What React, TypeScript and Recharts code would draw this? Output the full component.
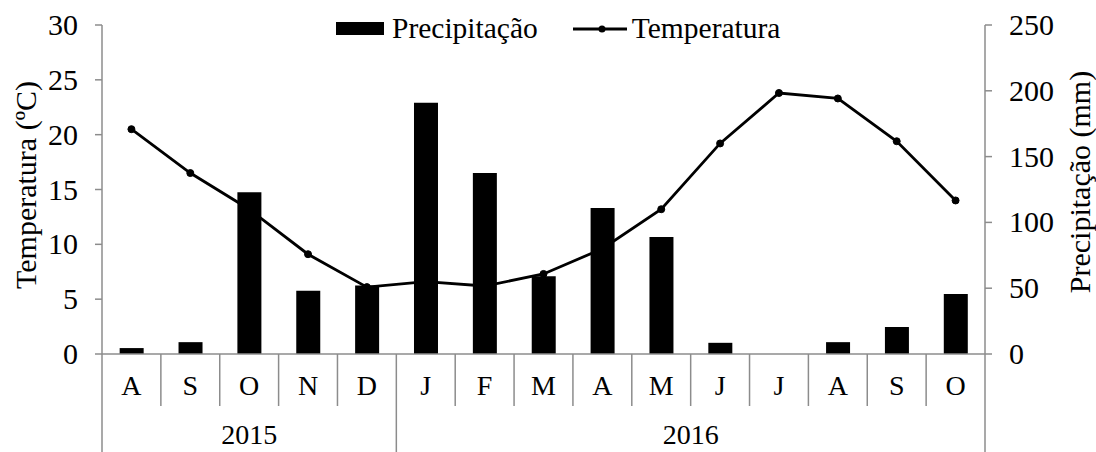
import React from 'react';
import { ComposedChart, Bar, Line, XAxis, YAxis } from 'recharts';

// monthly values, Aug 2015 - Oct 2016
const months = ['A', 'S', 'O', 'N', 'D', 'J', 'F', 'M', 'A', 'M', 'J', 'J', 'A', 'S', 'O'];
const yearLabels = ['2015', '2016'];
const yearSpans = [5, 10];
const precipitation = [4.5, 9, 123, 48, 52, 191, 137.5, 59, 111, 89, 8.5, 0, 9, 20.5, 45.5];
const temperature = [20.5, 16.5, 13.2, 9.1, 6.1, 6.6, 6.2, 7.3, 9.6, 13.2, 19.2, 23.8, 23.3, 19.4, 14.0];
const tempTicks = [0, 5, 10, 15, 20, 25, 30];
const precTicks = [0, 50, 100, 150, 200, 250];

const W = 1096;
const H = 452;
const PLOT_LEFT = 102;
const PLOT_RIGHT = 985;
const PLOT_TOP = 25;
const PLOT_BOTTOM = 354;
const BAND = (PLOT_RIGHT - PLOT_LEFT) / months.length;
const GRAY = '#8c8c8c';
const FONT = '"Liberation Serif", "Times New Roman", serif';

const data = months.map((m, i) => ({
  month: m,
  precipitacao: precipitation[i],
  temperatura: temperature[i],
}));

// group starts for year labels
const yearStarts = yearSpans.map((_, i) => yearSpans.slice(0, i).reduce((a, b) => a + b, 0));

const MonthTick = (props: any) => {
  const { x, y, payload } = props;
  const i = props.index ?? payload.index;
  const left = x - BAND / 2;
  const isYearStart = yearStarts.includes(i);
  const g = yearStarts.indexOf(i);
  return (
    <g>
      <line x1={left} x2={left} y1={y} y2={isYearStart ? H : y + 52} stroke={GRAY} strokeWidth={1.5} />
      {i === months.length - 1 && (
        <line x1={x + BAND / 2} x2={x + BAND / 2} y1={y} y2={H} stroke={GRAY} strokeWidth={1.5} />
      )}
      <text x={x} y={y + 41} textAnchor="middle" fontSize={28} fontFamily={FONT} style={{ fontFamily: FONT }} fill="#000">
        {payload.value}
      </text>
      {g >= 0 && (
        <text
          x={left + (yearSpans[g] * BAND) / 2}
          y={y + 90}
          textAnchor="middle"
          fontSize={28}
          fontFamily={FONT}
          style={{ fontFamily: FONT }}
          fill="#000"
        >
          {yearLabels[g]}
        </text>
      )}
    </g>
  );
};

const ValueTick = (props: any) => {
  const { x, y, payload, side } = props;
  return (
    <text
      x={x}
      y={y}
      dy={10}
      textAnchor={side === 'left' ? 'end' : 'start'}
      fontSize={30}
      fontFamily={FONT}
      style={{ fontFamily: FONT }}
      fill="#000"
    >
      {payload.value}
    </text>
  );
};

const AxisTitle = (props: any) => {
  const { cx, cy, value } = props;
  return (
    <text
      x={cx}
      y={cy}
      transform={`rotate(-90, ${cx}, ${cy})`}
      textAnchor="middle"
      dominantBaseline="central"
      fontSize={30}
      fontFamily={FONT}
      style={{ fontFamily: FONT }}
      fill="#000"
    >
      {value}
    </text>
  );
};

const ChartLegend = () => (
  <div
    style={{
      position: 'absolute',
      top: 12,
      left: 336,
      display: 'flex',
      alignItems: 'center',
      fontFamily: FONT,
      fontSize: 29.5,
      color: '#000',
      whiteSpace: 'nowrap',
    }}
  >
    <span style={{ display: 'inline-block', width: 48, height: 13, background: '#000', marginRight: 8 }} />
    <span>Precipitação</span>
    <svg width={54} height={12} style={{ marginLeft: 35, marginRight: 5 }}>
      <line x1={0} x2={54} y1={6} y2={6} stroke="#000" strokeWidth={2.8} />
      <circle cx={29} cy={6} r={3.5} fill="#000" />
    </svg>
    <span>Temperatura</span>
  </div>
);

export default function App() {
  return (
    <div
      style={{ position: 'absolute', left: 0, top: 0, width: W, height: H, background: '#fff', fontFamily: FONT }}
    >
      <ComposedChart
        width={W}
        height={H}
        data={data}
        margin={{ top: PLOT_TOP, right: W - PLOT_RIGHT - 95, bottom: 0, left: PLOT_LEFT - 95 }}
        barCategoryGap="30%"
      >
        <XAxis
          dataKey="month"
          height={H - PLOT_BOTTOM}
          interval={0}
          tickLine={false}
          tickSize={0}
          tickMargin={0}
          axisLine={{ stroke: GRAY, strokeWidth: 1.5 }}
          tick={<MonthTick />}
        />
        <YAxis
          yAxisId="left"
          orientation="left"
          width={95}
          domain={[0, 30]}
          ticks={tempTicks}
          interval={0}
          tickSize={7}
          tickMargin={17}
          axisLine={{ stroke: GRAY, strokeWidth: 1.5 }}
          tickLine={{ stroke: GRAY, strokeWidth: 1.5 }}
          tick={<ValueTick side="left" />}
          label={<AxisTitle cx={25} cy={185} value="Temperatura (ºC)" />}
        />
        <YAxis
          yAxisId="right"
          orientation="right"
          width={95}
          domain={[0, 250]}
          ticks={precTicks}
          interval={0}
          tickSize={7}
          tickMargin={17}
          axisLine={{ stroke: GRAY, strokeWidth: 1.5 }}
          tickLine={{ stroke: GRAY, strokeWidth: 1.5 }}
          tick={<ValueTick side="right" />}
          label={<AxisTitle cx={1079} cy={182} value="Precipitação (mm)" />}
        />
        <Bar yAxisId="right" dataKey="precipitacao" fill="#000" isAnimationActive={false} />
        <Line
          yAxisId="left"
          type="linear"
          dataKey="temperatura"
          stroke="#000"
          strokeWidth={2.8}
          dot={{ r: 3.5, fill: '#000', stroke: '#000', strokeWidth: 1 }}
          activeDot={false}
          isAnimationActive={false}
        />
      </ComposedChart>
      <ChartLegend />
    </div>
  );
}
